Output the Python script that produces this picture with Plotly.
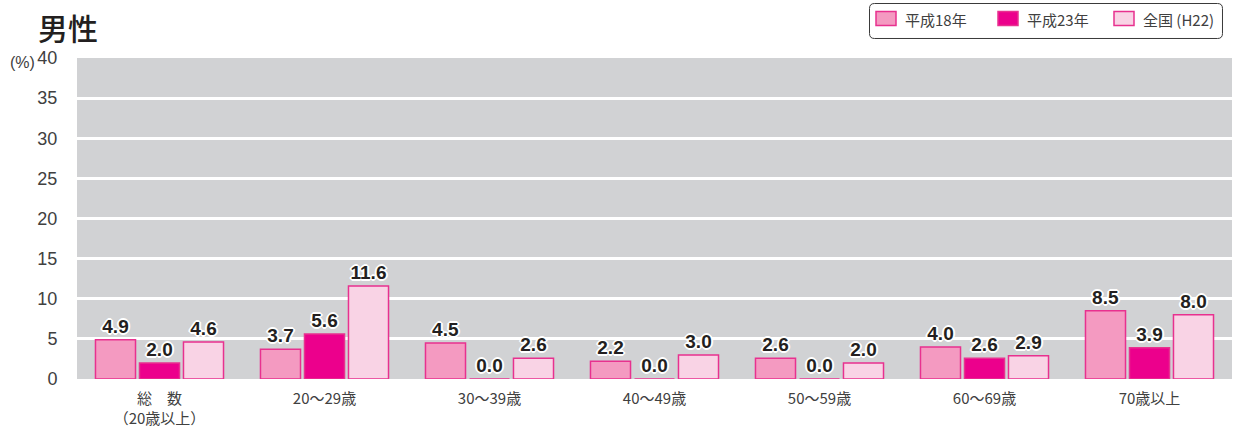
import plotly.graph_objects as go

# Age groups (x axis)
categories = ["総　数<br>（20歳以上）", "20～29歳", "30～39歳", "40～49歳",
              "50～59歳", "60～69歳", "70歳以上"]

# Share (%) per series
h18 = [4.9, 3.7, 4.5, 2.2, 2.6, 4.0, 8.5]
h23 = [2.0, 5.6, 0.0, 0.0, 0.0, 2.6, 3.9]
national_h22 = [4.6, 11.6, 2.6, 3.0, 2.0, 2.9, 8.0]

series_names = ["平成18年", "平成23年", "全国(H22)"]
y_ticks = [0, 5, 10, 15, 20, 25, 30, 35, 40]

fills = ["#F49AC1", "#EC008C", "#F9D3E5"]
outline = "#E8318F"
text_color = "#231F20"
tick_color = "#404040"
halo = ("1px 1px 0 #fff, -1px -1px 0 #fff, 1px -1px 0 #fff, -1px 1px 0 #fff, "
        "0 2px 0 #fff, 0 -2px 0 #fff, 2px 0 0 #fff, -2px 0 0 #fff")

W, H = 1234, 426
pl, pr, pt, pb = 77, 2, 58, 47
pw, ph = W - pl - pr, H - pt - pb


def to_paper(px, py):
    """Pixel position on the page -> paper coordinates."""
    return (px - pl) / pw, (H - pb - py) / ph


fig = go.Figure()
for name, vals, col in zip(series_names, [h18, h23, national_h22], fills):
    fig.add_trace(go.Bar(
        name=name,
        x=categories,
        y=vals,
        marker=dict(color=col, line=dict(color=outline, width=1.5)),
        text=[f"{v:.1f}" for v in vals],
        textposition="outside",
        cliponaxis=False,
        textfont=dict(family="Liberation Sans, Arial, sans-serif", size=19,
                      color=text_color, weight="bold", shadow=halo),
        hoverinfo="skip",
        showlegend=False,
    ))

fig.update_layout(
    width=W, height=H,
    margin=dict(l=pl, r=pr, t=pt, b=pb, autoexpand=False),
    paper_bgcolor="white",
    plot_bgcolor="#D1D2D4",
    barmode="group",
    bargap=0.2,
    bargroupgap=0.09,
    font=dict(family="Liberation Sans, Noto Sans CJK JP, sans-serif", color=tick_color),
    xaxis=dict(
        showgrid=False, zeroline=False, showline=False,
        tickfont=dict(family="Noto Sans CJK JP, sans-serif", size=15, color=tick_color),
        ticks="", ticklabelstandoff=9, fixedrange=True, automargin=False,
    ),
    yaxis=dict(
        range=[0, 40],
        tickvals=y_ticks,
        showgrid=True, gridcolor="white", gridwidth=3,
        zeroline=False, showline=False,
        ticks="outside", ticklen=15, tickcolor="rgba(0,0,0,0)",
        tickfont=dict(family="Liberation Sans, Arial, sans-serif", size=18, color=tick_color),
        fixedrange=True, automargin=False,
    ),
)

# Legend: rounded frame, colour swatches and series names
x0, x1, y0, y1, r = 869.5, 1222.5, 3.5, 38.5, 5


def pt_str(px, py):
    u, v = to_paper(px, py)
    return f"{u:.5f},{v:.5f}"


frame = (f"M {pt_str(x0 + r, y0)} L {pt_str(x1 - r, y0)} Q {pt_str(x1, y0)} {pt_str(x1, y0 + r)} "
         f"L {pt_str(x1, y1 - r)} Q {pt_str(x1, y1)} {pt_str(x1 - r, y1)} L {pt_str(x0 + r, y1)} "
         f"Q {pt_str(x0, y1)} {pt_str(x0, y1 - r)} L {pt_str(x0, y0 + r)} Q {pt_str(x0, y0)} {pt_str(x0 + r, y0)} Z")
fig.add_shape(type="path", xref="paper", yref="paper", path=frame,
              line=dict(color="#3A3A3A", width=1), fillcolor="rgba(0,0,0,0)")

swatch_left = [876, 998, 1114]
for sx, name, col in zip(swatch_left, series_names, fills):
    ax0, ay0 = to_paper(sx, 25.5)
    ax1, ay1 = to_paper(sx + 20, 11.5)
    fig.add_shape(type="rect", xref="paper", yref="paper",
                  x0=ax0, y0=ay0, x1=ax1, y1=ay1,
                  fillcolor=col, line=dict(color=outline, width=1.5))
    tx, ty = to_paper(sx + 27, 19)
    fig.add_annotation(text=name.replace("(", " ("),
                       xref="paper", yref="paper", x=tx, y=ty,
                       xanchor="left", yanchor="middle", showarrow=False,
                       font=dict(family="Noto Sans CJK JP, sans-serif", size=15, color=tick_color))

# Title and unit label
tx, ty = to_paper(36, 27)
fig.add_annotation(text="男性", xref="paper", yref="paper", x=tx, y=ty,
                   xanchor="left", yanchor="middle", showarrow=False,
                   font=dict(family="Noto Sans CJK JP, sans-serif", size=30,
                             color="#231F20", weight=500))
tx, ty = to_paper(8, 62)
fig.add_annotation(text="(%)", xref="paper", yref="paper", x=tx, y=ty,
                   xanchor="left", yanchor="middle", showarrow=False,
                   font=dict(family="Liberation Sans, Arial, sans-serif", size=16, color=tick_color))

fig.write_html("out.html")
